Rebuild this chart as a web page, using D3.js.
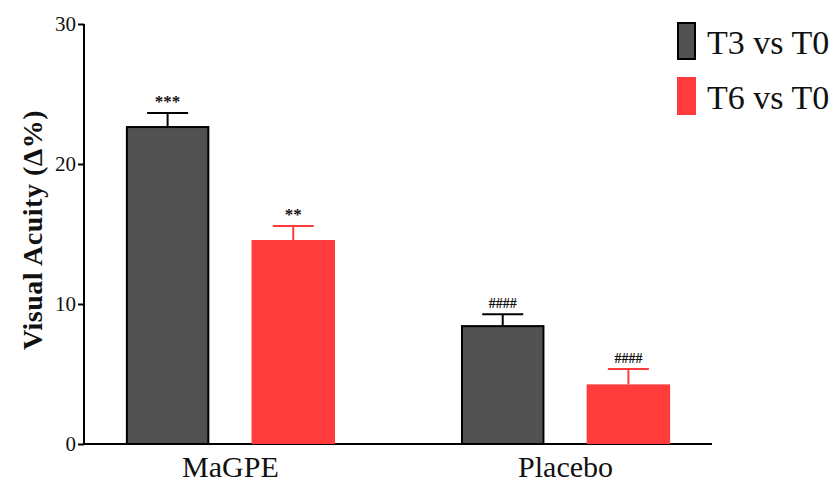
<!DOCTYPE html>
<html>
<head>
<meta charset="utf-8">
<script src="https://cdn.jsdelivr.net/npm/d3@7"></script>
<style>
body { margin: 0; background: #fff; }
text { font-family: "Liberation Serif", "DejaVu Serif", serif; }
</style>
</head>
<body>
<div id="chart"></div>
<script>
// data
var groups = ["MaGPE", "Placebo"];
var series = ["T3 vs T0", "T6 vs T0"];
var means = [[22.64, 14.57], [8.42, 4.26]];
var errors = [[1.0, 1.0], [0.85, 1.1]];
var marks = [["***", "**"], ["####", "####"]];
var yTicks = [0, 10, 20, 30];

var width = 833, height = 484;
var fills = ["#515151", "#ff3b3b"];
var strokes = ["#000", "#ff3b3b"];

var svg = d3.select("#chart").append("svg")
	.attr("width", width)
	.attr("height", height);

var y = d3.scaleLinear().domain([0, 30]).range([444, 24]);

var x0 = d3.scaleBand().domain(groups).range([84, 712])
	.paddingInner(0.376).paddingOuter(0.125);
var x1 = d3.scaleBand().domain(series).range([0, x0.bandwidth()])
	.paddingInner(0.336).paddingOuter(0);

// y axis
var yAxis = svg.append("g")
	.attr("transform", "translate(84,0)")
	.call(d3.axisLeft(y).tickValues(yTicks).tickSize(6).tickPadding(2));
yAxis.select(".domain").attr("stroke-width", 2).attr("d", "M0," + y(30) + "V" + y(0));
yAxis.selectAll(".tick line").attr("stroke-width", 2);
yAxis.selectAll(".tick text").style("font-size", "21px").attr("fill", "#111");

// x axis
var xAxis = svg.append("g")
	.attr("transform", "translate(0,444)")
	.call(d3.axisBottom(x0).tickSize(0).tickPadding(12));
xAxis.select(".domain").attr("stroke-width", 2).attr("d", "M83,0H712");
xAxis.selectAll(".tick text").style("font-size", "30px").attr("fill", "#111");

// bars
var g = svg.selectAll(".grp")
	.data(groups)
	.enter().append("g")
	.attr("transform", function(d) { return "translate(" + x0(d) + ",0)"; });

g.each(function(gname, gi) {
	var sel = d3.select(this);
	series.forEach(function(s, si) {
		var v = means[gi][si], e = errors[gi][si];
		var bx = x1(s), bw = x1.bandwidth();
		var cx = bx + bw / 2;
		// error bar
		sel.append("line")
			.attr("x1", cx).attr("x2", cx)
			.attr("y1", y(v)).attr("y2", y(v + e))
			.attr("stroke", strokes[si]).attr("stroke-width", 2);
		sel.append("line")
			.attr("x1", cx - 20.5).attr("x2", cx + 20.5)
			.attr("y1", y(v + e)).attr("y2", y(v + e))
			.attr("stroke", strokes[si]).attr("stroke-width", 2);
		sel.append("rect")
			.attr("x", bx + (si == 0 ? 1 : 0))
			.attr("y", y(v))
			.attr("width", bw - (si == 0 ? 2 : 0))
			.attr("height", y(0) - y(v))
			.attr("fill", fills[si])
			.attr("stroke", si == 0 ? "#000" : "none")
			.attr("stroke-width", 2);
		sel.append("text")
			.attr("x", cx)
			.attr("y", y(v + e) - 6)
			.attr("text-anchor", "middle")
			.style("font-size", marks[gi][si].charAt(0) == "#" ? "14px" : "17px")
			.style("font-weight", "bold")
			.attr("fill", "#111")
			.text(marks[gi][si]);
	});
});

// y label
svg.append("text")
	.attr("transform", "translate(42,230) rotate(-90)")
	.attr("text-anchor", "middle")
	.style("font-size", "28px")
	.style("font-weight", "bold")
	.style("letter-spacing", "0.5px")
	.attr("fill", "#111")
	.text("Visual Acuity (\u0394%)");

// legend
var leg = svg.selectAll(".leg")
	.data(series)
	.enter().append("g")
	.attr("transform", function(d, i) { return "translate(677," + (22 + i * 55) + ")"; });
leg.append("rect")
	.attr("x", function(d, i) { return i == 0 ? 1 : 0; })
	.attr("y", function(d, i) { return i == 0 ? 1 : 0; })
	.attr("width", function(d, i) { return i == 0 ? 17 : 19; })
	.attr("height", function(d, i) { return i == 0 ? 36 : 38; })
	.attr("fill", function(d, i) { return fills[i]; })
	.attr("stroke", function(d, i) { return i == 0 ? "#000" : "none"; })
	.attr("stroke-width", 2);
leg.append("text")
	.attr("x", 30)
	.attr("y", 32)
	.style("font-size", "34px")
	.attr("fill", "#111")
	.text(function(d) { return d; });
</script>
</body>
</html>
